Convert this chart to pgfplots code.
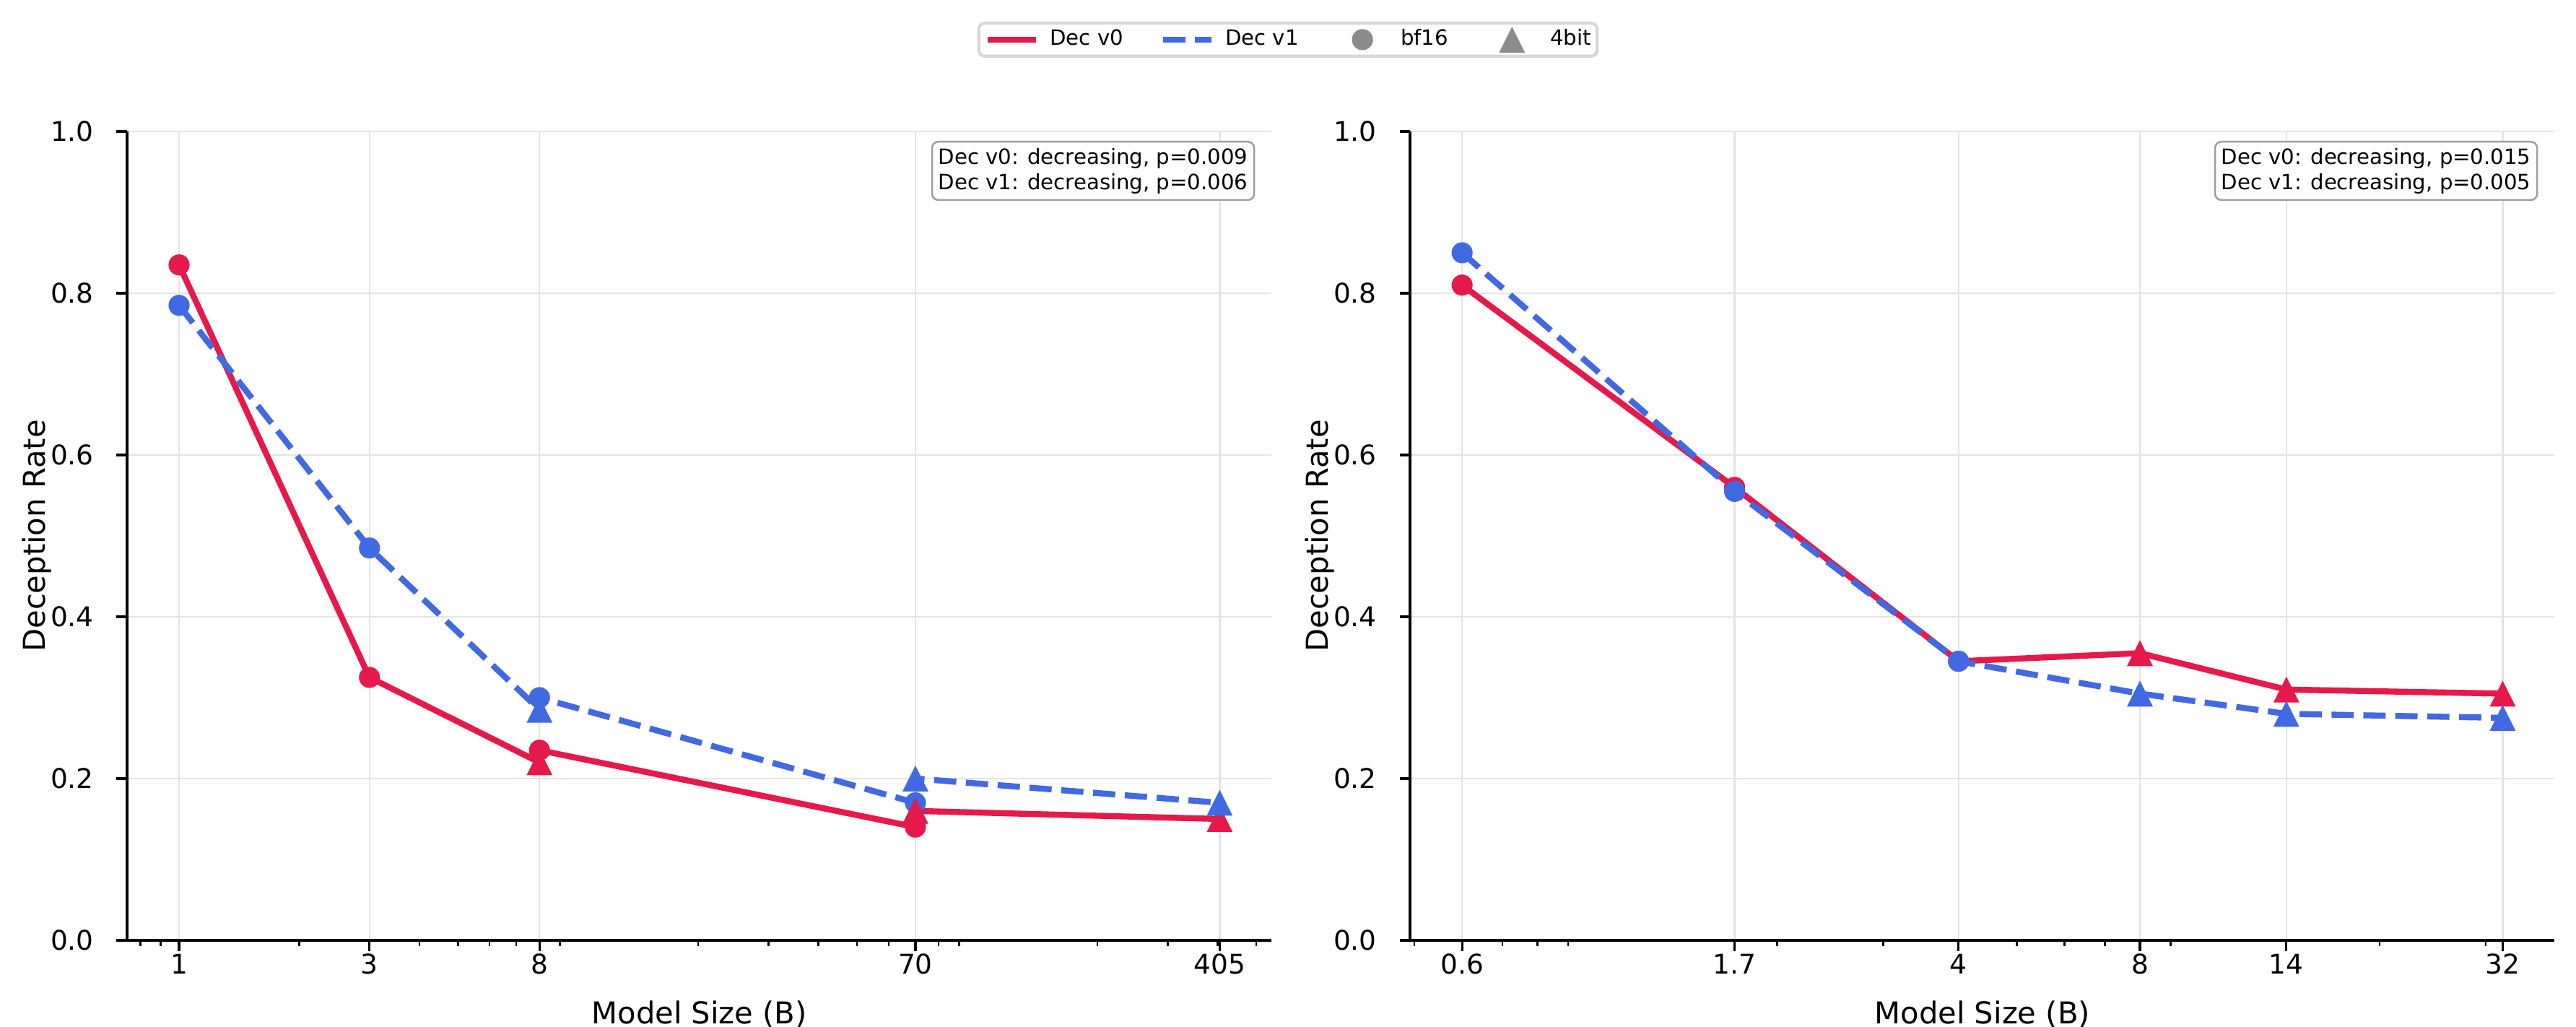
\documentclass[border=0pt]{standalone}
\usepackage{fontspec}
\setmainfont{DejaVu Sans}
\usepackage{pgfplots}
\pgfplotsset{compat=1.18}

\definecolor{decred}{HTML}{E6194B}
\definecolor{decblue}{HTML}{4169E1}
\definecolor{mkgray}{HTML}{8C8C8C}
\definecolor{gridgray}{HTML}{E4E4E4}

% filled marks without outline
\pgfdeclareplotmark{dot}{%
  \pgfpathcircle{\pgfpoint{0pt}{0pt}}{\pgfplotmarksize}%
  \pgfusepathqfill}
\pgfdeclareplotmark{uptri}{%
  \pgfpathmoveto{\pgfqpoint{0pt}{\pgfplotmarksize}}%
  \pgfpathlineto{\pgfqpoint{-\pgfplotmarksize}{-\pgfplotmarksize}}%
  \pgfpathlineto{\pgfqpoint{\pgfplotmarksize}{-\pgfplotmarksize}}%
  \pgfpathclose\pgfusepathqfill}

\pgfplotsset{
  panel/.style={
    anchor=south west,
    scale only axis,
    width=380.5pt, height=268.8pt,
    ymin=0, ymax=1,
    axis x line*=bottom, axis y line*=left,
    axis line style={line width=0.8pt, black},
    xmajorgrids, ymajorgrids,
    grid style={line width=0.6pt, gridgray},
    tick align=outside,
    major tick length=3.5pt, minor tick length=2pt,
    every tick/.style={black, line width=0.8pt},
    every minor tick/.style={black, line width=0.6pt},
    ytick={0,0.2,0.4,0.6,0.8,1},
    yticklabels={0.0,0.2,0.4,0.6,0.8,1.0},
    ticklabel style={font=\fontsize{9}{10.8}\selectfont, inner sep=0pt},
    xticklabel style={anchor=base, yshift=-7.7pt},
    yticklabel style={anchor=east, xshift=-7.44pt},
    xlabel={Model Size (B)}, ylabel={Deception Rate},
    label style={font=\fontsize{10}{12}\selectfont, inner sep=0pt},
    every axis x label/.style={at={(axis description cs:0.5,-0.1030)}, anchor=base},
    every axis y label/.style={at={(axis description cs:-0.0713,0.5)}, rotate=90, anchor=base},
  },
  v0line/.style={decred, line width=2pt, no markers, line join=round, line cap=rect, forget plot},
  v1line/.style={decblue, line width=2pt, no markers, line join=round, dash pattern=on 7.4pt off 3.2pt, forget plot},
  bfmark/.style={only marks, mark=dot, mark size=3.5pt, forget plot},
  qmark/.style={only marks, mark=uptri, mark size=4.3pt, forget plot},
}

\tikzset{
  statbox/.style={anchor=north east, draw=black!38, line width=0.6pt, fill=white,
    rounded corners=2.1pt, inner sep=2.1pt, align=right,
    font=\fontsize{7}{8.4}\selectfont, xshift=-5.52pt, yshift=-3.12pt},
}

\begin{document}
\begin{tikzpicture}
\path[use as bounding box] (0,0) rectangle (856.32pt,341.28pt);

% ---------- left panel ----------
\begin{semilogxaxis}[panel, at={(42.24pt,28.8pt)},
  xmin=0.7409, xmax=546.8,
  xtick={1,3,8,70,405}, xticklabels={1,3,8,70,405},
  minor xtick={0.8,0.9,2,4,5,6,7,9,20,30,40,50,60,80,90,200,300,400,500},
  legend columns=4,
  legend entries={Dec v0,Dec v1,bf16,4bit},
  legend style={at={(axis description cs:1.0142,1.1135)}, anchor=center,
    draw=black!16, line width=1pt, rounded corners=2pt, fill=white,
    font=\fontsize{7}{8.4}\selectfont, inner xsep=2pt, inner ysep=1.2pt,
    nodes={inner sep=0pt, text height=5.3pt, text depth=1.6pt},
    column sep=0pt, row sep=0pt},
]
% legend handles: 16pt wide, 4.7pt to the text, 13.2pt between entries
\addlegendimage{legend image code/.code={
  \path[draw=none] (0pt,0pt) -- (20.7pt,0pt);
  \draw[decred, line width=2pt, sharp corners] (0pt,0pt) -- (16pt,0pt);}}
\addlegendimage{legend image code/.code={
  \path[draw=none] (-13.2pt,0pt) -- (20.7pt,0pt);
  \draw[decblue, line width=2pt, sharp corners, dash pattern=on 7.4pt off 3.2pt] (0pt,0pt) -- (16pt,0pt);}}
\addlegendimage{legend image code/.code={
  \path[draw=none] (-13.2pt,0pt) -- (20.7pt,0pt);
  \fill[mkgray, draw=none] (8pt,0pt) circle (3.5pt);}}
\addlegendimage{legend image code/.code={
  \path[draw=none] (-13.2pt,0pt) -- (20.7pt,0pt);
  \fill[mkgray, draw=none, sharp corners] (8pt,4.3pt) -- (3.7pt,-4.3pt) -- (12.3pt,-4.3pt) -- cycle;}}

\addplot[v0line] coordinates {(1,0.835) (3,0.325) (8,0.22) (8,0.235) (70,0.14) (70,0.16) (405,0.15)};
\addplot[v1line] coordinates {(1,0.785) (3,0.485) (8,0.285) (8,0.30) (70,0.17) (70,0.20) (405,0.17)};
\addplot[bfmark, decred]  coordinates {(1,0.835) (3,0.325) (8,0.235) (70,0.14)};
\addplot[bfmark, decblue] coordinates {(1,0.785) (3,0.485) (8,0.30) (70,0.17)};
\addplot[qmark, decred]   coordinates {(8,0.22) (70,0.16) (405,0.15)};
\addplot[qmark, decblue]  coordinates {(8,0.285) (70,0.20) (405,0.17)};

\node[statbox] at (rel axis cs:1,1) {Dec v0: decreasing, p=0.009\\Dec v1: decreasing, p=0.006};
\end{semilogxaxis}

% ---------- right panel ----------
\begin{semilogxaxis}[panel, at={(468.72pt,28.8pt)},
  xmin=0.4917, xmax=39.04,
  xtick={0.6,1.7,4,8,14,32}, xticklabels={0.6,1.7,4,8,14,32},
  minor xtick={0.5,0.7,0.8,0.9,2,3,5,6,7,9,20,30},
]
\addplot[v0line] coordinates {(0.6,0.81) (1.7,0.56) (4,0.345) (8,0.355) (14,0.31) (32,0.305)};
\addplot[v1line] coordinates {(0.6,0.85) (1.7,0.555) (4,0.345) (8,0.305) (14,0.28) (32,0.275)};
\addplot[bfmark, decred]  coordinates {(0.6,0.81) (1.7,0.56) (4,0.345)};
\addplot[bfmark, decblue] coordinates {(0.6,0.85) (1.7,0.555) (4,0.345)};
\addplot[qmark, decred]   coordinates {(8,0.355) (14,0.31) (32,0.305)};
\addplot[qmark, decblue]  coordinates {(8,0.305) (14,0.28) (32,0.275)};

\node[statbox] at (rel axis cs:1,1) {Dec v0: decreasing, p=0.015\\Dec v1: decreasing, p=0.005};
\end{semilogxaxis}
\end{tikzpicture}
\end{document}
